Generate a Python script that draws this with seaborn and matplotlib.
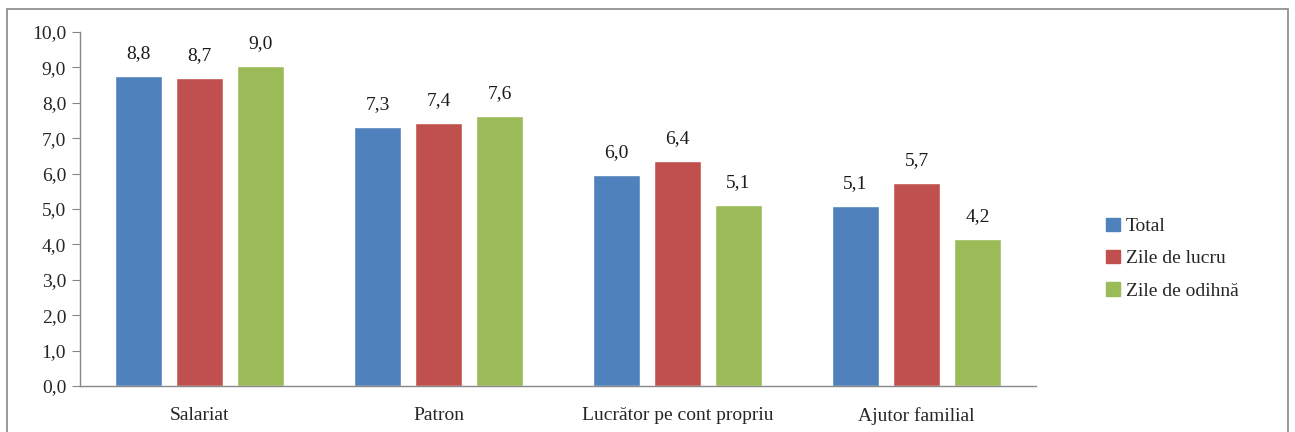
import pandas as pd
import matplotlib.pyplot as plt
import matplotlib.patches as mpatches
import seaborn as sns

# Data
categories = ["Salariat", "Patron", "Lucrător pe cont propriu", "Ajutor familial"]
series = ["Total", "Zile de lucru", "Zile de odihnă"]
total = [8.76, 7.32, 5.97, 5.09]
zile_lucru = [8.70, 7.43, 6.36, 5.74]
zile_odihna = [9.04, 7.62, 5.12, 4.16]
colors = ["#4F81BD", "#C0504D", "#9BBB59"]

df = pd.DataFrame({
    "categorie": categories * 3,
    "serie": [series[0]] * 4 + [series[1]] * 4 + [series[2]] * 4,
    "valoare": total + zile_lucru + zile_odihna,
})

sns.set_style("white")
plt.rcParams["font.family"] = ["Liberation Serif", "DejaVu Serif"]
fs = 14

fig = plt.figure(figsize=(12.95, 4.32), dpi=100)
ax = fig.add_axes([0.0618, 0.1065, 0.7382, 0.8195])

sns.barplot(data=df, x="categorie", y="valoare", hue="serie", palette=colors,
            width=0.765, gap=0.23, saturation=1, ax=ax, legend=True)

# value labels
for cont in ax.containers:
    labels = [f"{b.get_height():.1f}".replace(".", ",") for b in cont]
    ax.bar_label(cont, labels=labels, padding=10, fontsize=fs, color="#1a1a1a")

ax.set_ylim(0, 10)
ax.set_xlim(-0.5, 3.5)
ax.set_yticks(range(0, 11))
ax.set_yticklabels([f"{v},0" for v in range(0, 11)], fontsize=fs)
ax.set_xticks(range(4))
ax.set_xticklabels(categories, fontsize=fs)
ax.set_xlabel("")
ax.set_ylabel("")

# category boundary ticks on the x axis
ax.set_xticks([-0.5, 0.5, 1.5, 2.5, 3.5], minor=True)
ax.tick_params(axis="x", which="major", length=0, pad=15)
ax.tick_params(axis="x", which="minor", length=6, color="#888888", direction="out")
ax.tick_params(axis="y", length=6, color="#888888", direction="out", pad=4, left=True)

for side in ["top", "right"]:
    ax.spines[side].set_visible(False)
for side in ["left", "bottom"]:
    ax.spines[side].set_color("#888888")
    ax.spines[side].set_linewidth(1)

handles = [mpatches.Patch(color=c, label=s) for c, s in zip(colors, series)]
ax.legend(handles=handles, loc="center left", bbox_to_anchor=(1.055, 0.36),
          frameon=False, fontsize=fs, handlelength=0.7, handleheight=0.7,
          handletextpad=0.3, labelspacing=0.75)

# outer border of the chart area
border = mpatches.Rectangle((7 / 1295, -0.05), 1281 / 1295, 1 - 9 / 432 + 0.05,
                            transform=fig.transFigure, fill=False,
                            edgecolor="#888888", linewidth=1.2)
fig.patches.append(border)

fig.savefig("out.png", dpi=100)
